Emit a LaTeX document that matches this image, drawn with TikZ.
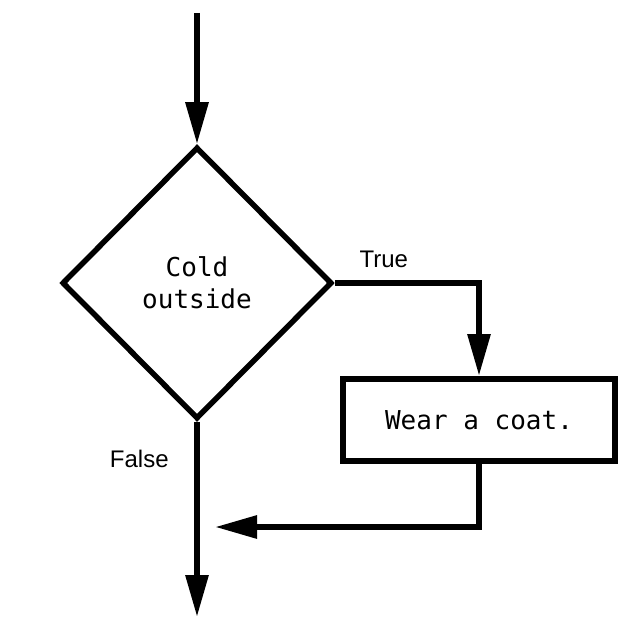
\documentclass[tikz,border=0pt]{standalone}
\usepackage{fontspec}
\setmainfont{Liberation Sans}
\newfontfamily\codefont{DejaVu Sans Mono}
\usetikzlibrary{arrows.meta,shapes.geometric}
\tikzset{
  flow/.style={line width=6pt,-{Triangle[length=42pt,width=22pt]}},
  decision/.style={draw,line width=5.5pt,shape=diamond,inner sep=0pt,
    minimum width=270pt,minimum height=272pt,align=center,
    font=\codefont\fontsize{26}{32}\selectfont},
  action/.style={draw,line width=6pt,inner sep=0pt,
    minimum width=272pt,minimum height=82pt,
    font=\codefont\fontsize{26}{32}\selectfont},
  branch/.style={font=\fontsize{24}{28}\selectfont}
}
\begin{document}
\begin{tikzpicture}[x=1pt,y=-1pt]
\useasboundingbox (0,0) rectangle (622,628);
\coordinate (start) at (197,13);
\node[decision] (cold) at (197,283) {Cold\\outside};
\node[action] (coat) at (479,420) {Wear a coat.};
\coordinate (merge) at (215,527);
\coordinate (end) at (197,617);
\draw[flow] (start) -- (cold.north);
\draw[flow] (cold.east) -- node[branch,pos=0.34,above=9pt] {True} (cold.east -| coat.north) -- (coat.north);
\draw[flow] (coat.south) |- (merge);
\draw[flow] (cold.south) -- node[branch,pos=0.19,left=22pt] {False} (end);
\end{tikzpicture}
\end{document}
